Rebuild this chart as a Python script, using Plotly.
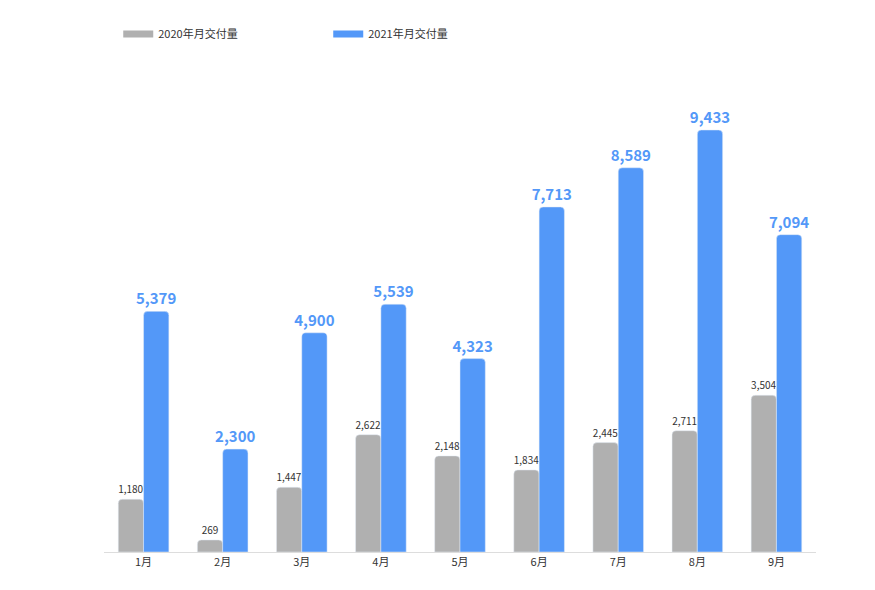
import plotly.graph_objects as go

months = ['1月', '2月', '3月', '4月', '5月', '6月', '7月', '8月', '9月']
y2020 = [1180, 269, 1447, 2622, 2148, 1834, 2445, 2711, 3504]
y2021 = [5379, 2300, 4900, 5539, 4323, 7713, 8589, 9433, 7094]
names = ['2020年月交付量', '2021年月交付量']
colors = ['#b0b0b0', '#5398f8']

font = 'Noto Sans CJK SC, Roboto, sans-serif'
fig = go.Figure()

fig.add_trace(go.Bar(
    x=months, y=y2020, marker_color=colors[0], showlegend=False,
    text=[f'{v:,}' for v in y2020], textposition='outside', constraintext='none',
    textfont=dict(size=10, color='#333333'), cliponaxis=False,
))
fig.add_trace(go.Bar(
    x=months, y=y2021, marker_color=colors[1], showlegend=False,
    text=[f'{v:,}' for v in y2021], textposition='outside', constraintext='none',
    textfont=dict(size=15, color=colors[1], weight='bold'), cliponaxis=False,
))

# legend entries drawn as thick lines
for n, c in zip(names, colors):
    fig.add_trace(go.Scatter(x=[None], y=[None], mode='lines', name=n,
                             line=dict(color=c, width=7)))

fig.update_layout(
    width=875, height=590,
    margin=dict(l=96, r=67, t=60, b=46),
    barmode='group', bargap=0.36, bargroupgap=0, barcornerradius=4,
    plot_bgcolor='white', paper_bgcolor='white',
    font=dict(family=font, size=11, color='#333333'),
    legend=dict(orientation='h', x=0.02, y=1.06, xanchor='left', yanchor='bottom',
                font=dict(size=11, color='#333333'), entrywidth=165),
    xaxis=dict(showgrid=False, showline=True, linecolor='#dddddd', linewidth=1,
               ticks='', tickfont=dict(size=11, color='#333333')),
    yaxis=dict(range=[0, 10618], visible=False, showgrid=False),
)

fig.write_html('out.html')
